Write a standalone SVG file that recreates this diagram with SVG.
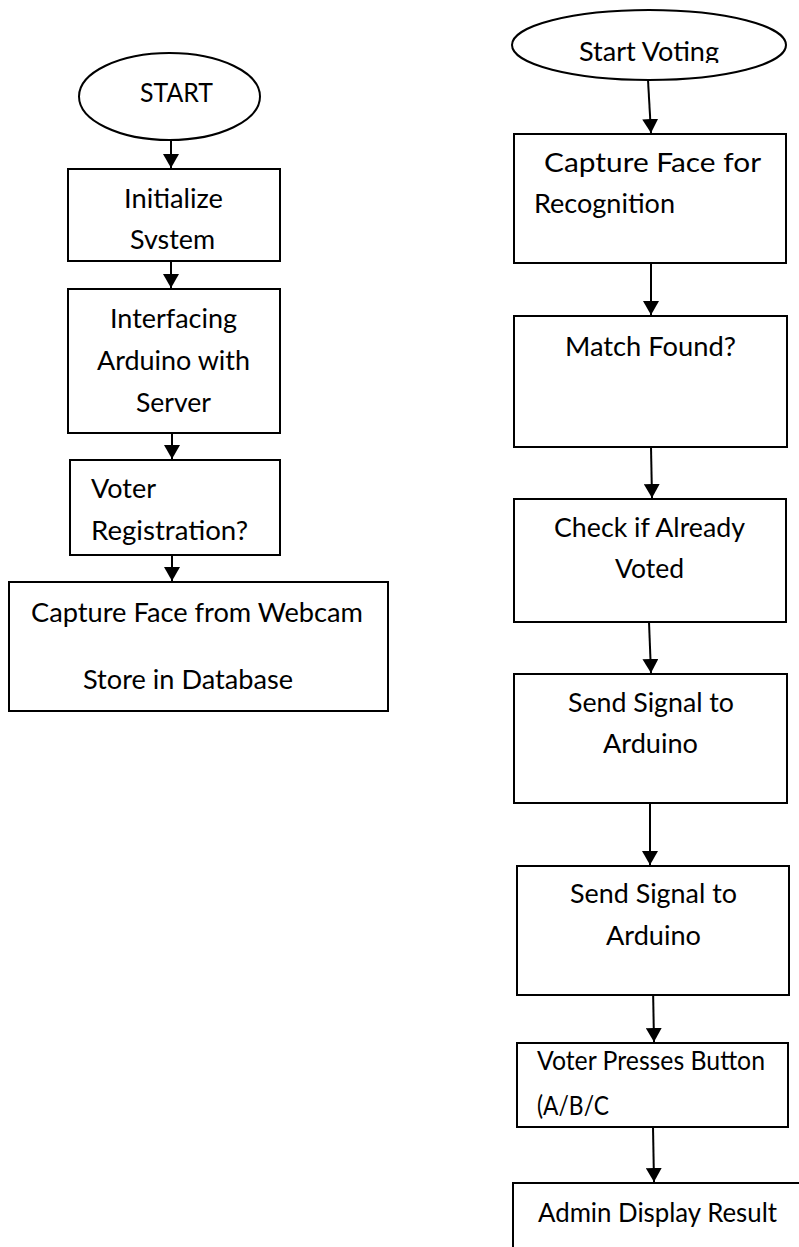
<svg xmlns="http://www.w3.org/2000/svg" width="799" height="1247" viewBox="0 0 799 1247">
<style>
.box{fill:#fff;stroke:#000;stroke-width:2}
.t{font-family:Lato,"Open Sans","Liberation Sans",sans-serif;font-size:26.5px;fill:#000}
.ln{stroke:#000;stroke-width:2;fill:none;marker-end:url(#ah)}
</style>
<defs>
<marker id="ah" markerUnits="userSpaceOnUse" markerWidth="14" markerHeight="16" viewBox="0 0 14 16" refX="14" refY="8" orient="auto">
<path d="M0,0 L14,8 L0,16 Z" fill="#000"/>
</marker>
<clipPath id="clipSV"><rect x="500" y="0" width="299" height="63"/></clipPath>
</defs>
<rect width="799" height="1247" fill="#fff"/>
<g id="connectors">
<line class="ln" x1="171" y1="140" x2="171" y2="168"/>
<line class="ln" x1="171" y1="261" x2="171" y2="288"/>
<line class="ln" x1="172" y1="433" x2="172" y2="459"/>
<line class="ln" x1="172" y1="555" x2="172" y2="581"/>
<line class="ln" x1="648" y1="80" x2="651" y2="133"/>
<line class="ln" x1="651" y1="263" x2="651" y2="315"/>
<line class="ln" x1="651" y1="447" x2="652" y2="498"/>
<line class="ln" x1="649" y1="622" x2="651" y2="673"/>
<line class="ln" x1="650" y1="803" x2="650" y2="865"/>
<line class="ln" x1="653" y1="987" x2="654" y2="1042"/>
<line class="ln" x1="653" y1="1127" x2="654" y2="1182"/>
</g>
<g id="n-start">
<ellipse class="box" cx="169.5" cy="96.5" rx="90.5" ry="43.5"/>
<text class="t" x="140" y="102" textLength="73" lengthAdjust="spacingAndGlyphs">START</text>
</g>
<g id="n-init">
<rect class="box" x="68" y="169" width="212" height="92"/>
<text class="t" x="124" y="208" textLength="99" lengthAdjust="spacingAndGlyphs">Initialize</text>
<text class="t" x="130" y="249" textLength="85" lengthAdjust="spacingAndGlyphs">Svstem</text>
</g>
<g id="n-interface">
<rect class="box" x="68" y="289" width="212" height="144"/>
<text class="t" x="110" y="328" textLength="127" lengthAdjust="spacingAndGlyphs">Interfacing</text>
<text class="t" x="97" y="370" textLength="153" lengthAdjust="spacingAndGlyphs">Arduino with</text>
<text class="t" x="136" y="412" textLength="75" lengthAdjust="spacingAndGlyphs">Server</text>
</g>
<g id="n-voterreg">
<rect class="box" x="70" y="460" width="210" height="95"/>
<text class="t" x="91" y="498" textLength="65" lengthAdjust="spacingAndGlyphs">Voter</text>
<text class="t" x="91" y="540" textLength="157" lengthAdjust="spacingAndGlyphs">Registration?</text>
</g>
<g id="n-capture-reg">
<rect class="box" x="9" y="582" width="379" height="129"/>
<text class="t" x="31" y="622" textLength="332" lengthAdjust="spacingAndGlyphs">Capture Face from Webcam</text>
<text class="t" x="83" y="689" textLength="210" lengthAdjust="spacingAndGlyphs">Store in Database</text>
</g>
<g id="n-startvoting">
<ellipse class="box" cx="649" cy="45" rx="137" ry="35"/>
<text class="t" x="579" y="61" textLength="140" lengthAdjust="spacingAndGlyphs" clip-path="url(#clipSV)">Start Voting</text>
</g>
<g id="n-capture-rec">
<rect class="box" x="514" y="134" width="272" height="129"/>
<text class="t" x="544" y="172" textLength="217" lengthAdjust="spacingAndGlyphs">Capture Face for</text>
<text class="t" x="534" y="213" textLength="141" lengthAdjust="spacingAndGlyphs">Recognition</text>
</g>
<g id="n-match">
<rect class="box" x="514" y="316" width="273" height="131"/>
<text class="t" x="565" y="356" textLength="171" lengthAdjust="spacingAndGlyphs">Match Found?</text>
</g>
<g id="n-check">
<rect class="box" x="514" y="499" width="272" height="123"/>
<text class="t" x="554" y="537" textLength="191" lengthAdjust="spacingAndGlyphs">Check if Already</text>
<text class="t" x="615" y="578" textLength="69" lengthAdjust="spacingAndGlyphs">Voted</text>
</g>
<g id="n-send1">
<rect class="box" x="514" y="674" width="273" height="129"/>
<text class="t" x="568" y="712" textLength="166" lengthAdjust="spacingAndGlyphs">Send Signal to</text>
<text class="t" x="603" y="753" textLength="95" lengthAdjust="spacingAndGlyphs">Arduino</text>
</g>
<g id="n-send2">
<rect class="box" x="517" y="866" width="272" height="129"/>
<text class="t" x="570" y="903" textLength="167" lengthAdjust="spacingAndGlyphs">Send Signal to</text>
<text class="t" x="606" y="945" textLength="95" lengthAdjust="spacingAndGlyphs">Arduino</text>
</g>
<g id="n-press">
<rect class="box" x="517" y="1043" width="271" height="84"/>
<text class="t" x="537" y="1070" textLength="228" lengthAdjust="spacingAndGlyphs">Voter Presses Button</text>
<text class="t" x="537" y="1115" textLength="72" lengthAdjust="spacingAndGlyphs">(A/B/C</text>
</g>
<g id="n-admin">
<rect class="box" x="513" y="1183" width="300" height="80"/>
<text class="t" x="538" y="1222" textLength="239" lengthAdjust="spacingAndGlyphs">Admin Display Result</text>
</g>
</svg>
